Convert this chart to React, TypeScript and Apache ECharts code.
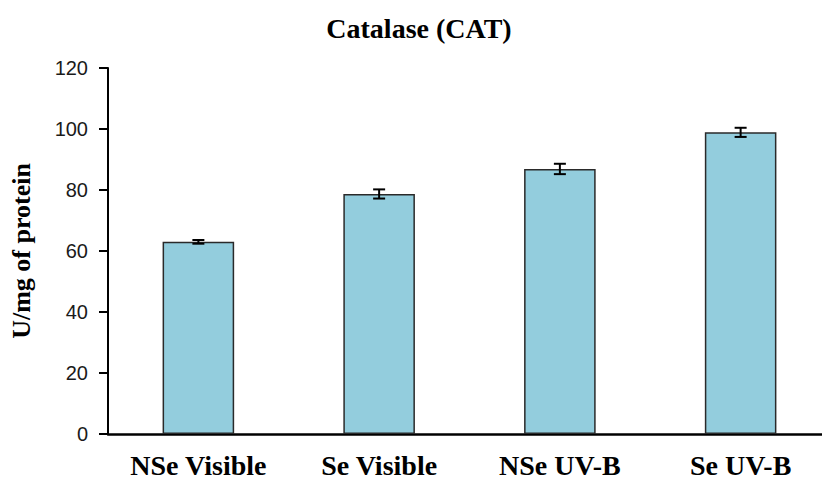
import React, { useEffect, useRef } from "react";
import * as echarts from "echarts";

const categories = ["NSe Visible", "Se Visible", "NSe UV-B", "Se UV-B"];
const catValues = [63, 78.7, 86.9, 98.9];
const catErrors = [0.6, 1.5, 1.7, 1.5];
const yTicks = { min: 0, max: 120, interval: 20 };

// The plot runs a little past the right edge of the visible frame,
// so the chart canvas is wider than the clipping box around it.
const FRAME_W = 822;
const FRAME_H = 479;
const CANVAS_W = 842;

export default function App() {
  const ref = useRef<HTMLDivElement>(null);

  useEffect(() => {
    document.body.style.margin = "0";
    const chart = echarts.init(ref.current!, null, { renderer: "svg" });

    const errorData = catValues.map((v, i) => [i, v - catErrors[i], v + catErrors[i]]);

    chart.setOption({
      animation: false,
      title: {
        text: "Catalase (CAT)",
        left: 414,
        top: 9,
        textAlign: "center",
        textStyle: {
          fontFamily: "Liberation Serif",
          fontWeight: "bold",
          fontSize: 28,
          color: "#000",
        },
      },
      grid: { left: 106, right: CANVAS_W - 831, top: 68, bottom: 44.5, containLabel: false },
      xAxis: {
        type: "category",
        data: categories,
        axisLine: { lineStyle: { color: "#000", width: 2.5 } },
        axisTick: { show: false },
        axisLabel: {
          margin: 17,
          fontFamily: "Liberation Serif",
          fontWeight: "bold",
          fontSize: 28,
          color: "#000",
          interval: 0,
        },
      },
      yAxis: {
        type: "value",
        min: yTicks.min,
        max: yTicks.max,
        interval: yTicks.interval,
        name: "U/mg of protein",
        nameLocation: "middle",
        nameGap: 74,
        nameRotate: 90,
        nameTextStyle: {
          fontFamily: "Liberation Serif",
          fontWeight: "bold",
          fontSize: 26,
          color: "#000",
        },
        axisLine: { show: true, lineStyle: { color: "#000", width: 2 } },
        axisTick: { show: true, length: 9, lineStyle: { color: "#000", width: 2 } },
        axisLabel: {
          margin: 20,
          fontFamily: "Liberation Sans",
          fontSize: 20,
          color: "#1a1a1a",
        },
        splitLine: { show: false },
      },
      series: [
        {
          type: "bar",
          data: catValues,
          barWidth: "39.6%",
          itemStyle: { color: "#93CDDD", borderColor: "#2a2a2a", borderWidth: 1.5 },
        },
        {
          type: "custom",
          data: errorData,
          z: 10,
          renderItem: (params: any, api: any) => {
            const x = api.value(0);
            const lo = api.coord([x, api.value(1)]);
            const hi = api.coord([x, api.value(2)]);
            const half = 6;
            const style = { stroke: "#000", lineWidth: 2 };
            return {
              type: "group",
              children: [
                { type: "line", shape: { x1: lo[0], y1: lo[1], x2: hi[0], y2: hi[1] }, style },
                { type: "line", shape: { x1: hi[0] - half, y1: hi[1], x2: hi[0] + half, y2: hi[1] }, style },
                { type: "line", shape: { x1: lo[0] - half, y1: lo[1], x2: lo[0] + half, y2: lo[1] }, style },
              ],
            };
          },
        },
      ],
    });

    return () => chart.dispose();
  }, []);

  return (
    <div style={{ width: FRAME_W, height: FRAME_H, overflow: "hidden", position: "relative" }}>
      <div ref={ref} style={{ width: CANVAS_W, height: FRAME_H }} />
    </div>
  );
}
